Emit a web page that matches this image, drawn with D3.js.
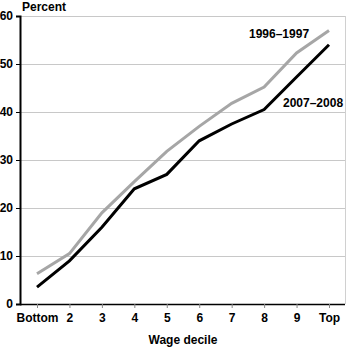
<!DOCTYPE html>
<html><head><meta charset="utf-8">
<script src="https://cdn.jsdelivr.net/npm/d3@7"></script>
<style>body{margin:0;background:#fff}svg{display:block}text{font-family:"Liberation Sans",Arial,sans-serif;font-weight:bold;font-size:12px;fill:#000}</style>
</head><body><svg id="c" width="347" height="350"></svg>
<script>
const categories = ["Bottom","2","3","4","5","6","7","8","9","Top"];
const series1996 = [6.3,10.5,19,25.5,31.8,37,41.8,45.2,52.3,57];
const series2007 = [3.5,9,16,24,27,34,37.5,40.5,47.3,54];
const yTicks = [0,10,20,30,40,50,60];

const svg = d3.select("#c");
const L=20, R=345, T=16, B=304;
const x = d3.scalePoint().domain(categories).range([37,329]);
const y = d3.scaleLinear().domain([0,60]).range([B,T]);

// gridlines
svg.append("g").selectAll("line").data(yTicks.filter(d=>d>0)).join("line")
  .attr("x1",L).attr("x2",R).attr("y1",d=>y(d)+0.5).attr("y2",d=>y(d)+0.5)
  .attr("stroke","#c8c8c8").attr("stroke-width",1);
// right border
svg.append("line").attr("x1",R+0.5).attr("x2",R+0.5).attr("y1",T).attr("y2",B).attr("stroke","#d0d0d0");

// y axis
const ya = svg.append("g").attr("transform",`translate(${L},0)`)
  .call(d3.axisLeft(y).tickValues(yTicks).tickSize(4).tickPadding(3));
ya.select(".domain").attr("stroke","#000").attr("stroke-width",2);
ya.selectAll("line").attr("stroke","#000");
ya.selectAll("text").style("font-size","12px").style("font-weight","bold").style("font-family","Liberation Sans, Arial, sans-serif");

// x axis
const xa = svg.append("g").attr("transform",`translate(0,${B})`)
  .call(d3.axisBottom(x).tickSize(4).tickPadding(5));
xa.select(".domain").attr("d",`M${L},0.5H${R}`).attr("stroke","#000").attr("stroke-width",1.5);
xa.selectAll(".tick line").attr("stroke","#888");
xa.selectAll("text").style("font-size","12px").style("font-weight","bold").style("font-family","Liberation Sans, Arial, sans-serif");

const line = d3.line().x((d,i)=>x(categories[i])).y(d=>y(d));
svg.append("path").datum(series1996).attr("d",line).attr("fill","none").attr("stroke","#a6a6a6").attr("stroke-width",3);
svg.append("path").datum(series2007).attr("d",line).attr("fill","none").attr("stroke","#000").attr("stroke-width",3);

svg.append("text").attr("x",22).attr("y",11).text("Percent");
svg.append("text").attr("x",183).attr("y",344).attr("text-anchor","middle").text("Wage decile");
svg.append("text").attr("x",249).attr("y",38).text("1996–1997");
svg.append("text").attr("x",283).attr("y",107).text("2007–2008");
</script></body></html>
